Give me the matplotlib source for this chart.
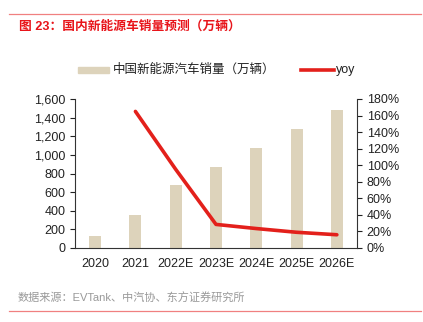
import matplotlib
matplotlib.use("Agg")
import matplotlib.pyplot as plt
from matplotlib.lines import Line2D
from matplotlib.patches import Rectangle
import matplotlib.ticker as mticker

plt.rcParams['font.family'] = ['Liberation Sans', 'Noto Sans CJK SC', 'DejaVu Sans']

categories = ["2020", "2021", "2022E", "2023E", "2024E", "2025E", "2026E"]
sales = [132, 352, 680, 870, 1075, 1280, 1485]
yoy_years = ["2021", "2022E", "2023E", "2024E", "2025E", "2026E"]
yoy = [1.65, 0.95, 0.285, 0.235, 0.19, 0.16]

bar_color = "#DDD3BB"
line_color = "#E3201B"
red = "#E8141A"

W, H = 423, 322
fig = plt.figure(figsize=(W/100, H/100), dpi=100)
ax = fig.add_axes([75/W, 1-248/H, (357-75)/W, (248-99)/H])
x = list(range(len(categories)))
ax.bar(x, sales, width=0.3, color=bar_color, zorder=2)
ax.set_xlim(-0.5, len(categories)-0.5)
ax.set_ylim(0, 1600)
ax.set_yticks(range(0, 1601, 200))
ax.yaxis.set_major_formatter(mticker.FuncFormatter(lambda v, p: f"{int(v):,}"))
ax.set_xticks(x)
ax.set_xticklabels(categories)
ax.tick_params(axis='both', labelsize=9, colors='#222222', length=3.5, width=0.8, direction='out')
ax.tick_params(axis='x', length=0, pad=7)
for s in ['top', 'right']:
    ax.spines[s].set_visible(False)
ax.spines['left'].set_color('#333333')
ax.spines['bottom'].set_color('#333333')

ax2 = ax.twinx()
xi = [categories.index(c) for c in yoy_years]
ax2.plot(xi, yoy, color=line_color, lw=2.6, solid_capstyle='round', zorder=3)
ax2.set_ylim(0, 1.8)
ax2.set_yticks([i/10 for i in range(0, 19, 2)])
ax2.yaxis.set_major_formatter(mticker.FuncFormatter(lambda v, p: f"{v*100:.0f}%"))
ax2.tick_params(axis='y', labelsize=9, colors='#222222', length=3.5, width=0.8, direction='out')
for s in ['top', 'left', 'bottom']:
    ax2.spines[s].set_visible(False)
ax2.spines['right'].set_color('#333333')
ax2.set_xlim(-0.5, len(categories)-0.5)

# legend drawn manually
ly = 1-70/H
fig.add_artist(Rectangle((78/W, ly-3/H), 31/W, 6/H, color=bar_color, transform=fig.transFigure))
fig.text(113/W, ly, "中国新能源汽车销量（万辆）", fontsize=9, color='#222222', va='center', ha='left')
fig.add_artist(Line2D([301/W, 334/W], [ly, ly], color=line_color, lw=2.6))
fig.text(336/W, ly, "yoy", fontsize=9, color='#222222', va='center', ha='left')

fig.add_artist(Line2D([9/W, 421/W], [1-14/H, 1-14/H], color='#F08080', lw=0.9))
fig.text(19/W, 1-27/H, "图 23：国内新能源车销量预测（万辆）", color=red, fontsize=9.2,
         fontweight='bold', va='center', ha='left')
fig.text(18/W, 1-298/H, "数据来源：EVTank、中汽协、东方证券研究所", color='#999999',
         fontsize=8, va='center', ha='left')
fig.add_artist(Line2D([9/W, 421/W], [1-311/H, 1-311/H], color='#F08080', lw=0.9))

fig.savefig("out.png", dpi=100)
